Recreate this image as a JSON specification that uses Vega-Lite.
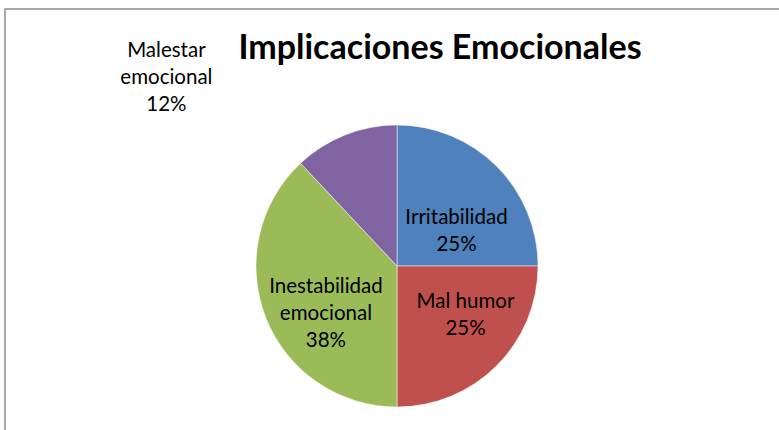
{
  "$schema": "https://vega.github.io/schema/vega-lite/v6.json",
  "autosize": {"type": "none"},
  "padding": {"left": 5, "top": 9, "right": -10, "bottom": -93},
  "width": 784,
  "height": 514,
  "background": "white",
  "view": {"stroke": "#8c8c8c", "strokeWidth": 1.5, "fill": "white"},
  "title": {
    "text": "Implicaciones Emocionales",
    "font": "Lato",
    "fontSize": 34,
    "fontWeight": "bold",
    "color": "#000000",
    "anchor": "middle",
    "frame": "group",
    "baseline": "alphabetic",
    "offset": -43,
    "dx": 43,
    "dy": 41
  },
  "config": {
    "view": {"stroke": "#8c8c8c", "strokeWidth": 1.5},
    "style": {"cell": {"stroke": "#8c8c8c", "strokeWidth": 1.5}},
    "text": {"font": "Lato", "fontSize": 20.5, "lineHeight": 27, "color": "#000000"}
  },
  "data": {
    "values": [
      {"categoria": "Irritabilidad", "valor": 25, "orden": 1, "etiqueta": "Irritabilidad\n25%"},
      {"categoria": "Mal humor", "valor": 25, "orden": 2, "etiqueta": "Mal humor\n25%"},
      {"categoria": "Inestabilidad emocional", "valor": 38, "orden": 3, "etiqueta": "Inestabilidad\nemocional\n38%"},
      {"categoria": "Malestar emocional", "valor": 12, "orden": 4, "etiqueta": "Malestar\nemocional\n12%"}
    ]
  },
  "encoding": {
    "theta": {"field": "valor", "type": "quantitative", "stack": true},
    "order": {"field": "orden", "type": "quantitative"}
  },
  "layer": [
    {
      "mark": {"type": "arc", "outerRadius": 141, "stroke": "white", "strokeWidth": 0.5},
      "encoding": {
        "color": {
          "field": "categoria",
          "type": "nominal",
          "scale": {
            "domain": ["Irritabilidad", "Mal humor", "Inestabilidad emocional", "Malestar emocional"],
            "range": ["#4F81BD", "#C0504D", "#9BBB59", "#8064A2"]
          },
          "legend": null
        }
      }
    },
    {
      "mark": {"type": "text", "radius": 70, "lineBreak": "\n", "baseline": "middle", "align": "center", "dx": 10, "dy": 1},
      "encoding": {
        "text": {"condition": {"test": "datum.categoria === 'Irritabilidad'", "field": "etiqueta"}, "value": ""}
      }
    },
    {
      "mark": {"type": "text", "radius": 70, "lineBreak": "\n", "baseline": "middle", "align": "center", "dx": 19, "dy": -13},
      "encoding": {
        "text": {"condition": {"test": "datum.categoria === 'Mal humor'", "field": "etiqueta"}, "value": ""}
      }
    },
    {
      "mark": {"type": "text", "radius": 70, "lineBreak": "\n", "baseline": "middle", "align": "center", "dx": -6, "dy": -5},
      "encoding": {
        "text": {"condition": {"test": "datum.categoria === 'Inestabilidad emocional'", "field": "etiqueta"}, "value": ""}
      }
    },
    {
      "mark": {"type": "text", "radius": 200, "lineBreak": "\n", "baseline": "middle", "align": "center", "dx": -157, "dy": -29},
      "encoding": {
        "text": {"condition": {"test": "datum.categoria === 'Malestar emocional'", "field": "etiqueta"}, "value": ""}
      }
    }
  ]
}
